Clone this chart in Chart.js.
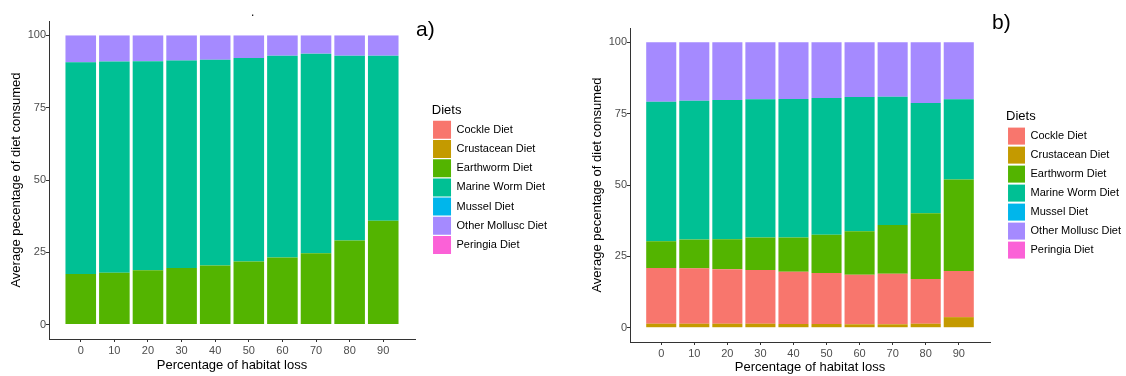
<!DOCTYPE html>
<html>
<head>
<meta charset="utf-8">
<script src="https://cdn.jsdelivr.net/npm/chart.js@4"></script>
<style>
  html, body { margin: 0; padding: 0; background: #fff; }
  body { width: 1126px; height: 376px; position: relative; overflow: hidden; font-family: "Liberation Sans", Arial, sans-serif; }
  canvas { position: absolute; top: 0; }
  .tag { position: absolute; font-size: 21px; line-height: 1; color: #000; }
</style>
</head>
<body>
<canvas id="chartA" height="376" style="left:0"></canvas>
<canvas id="chartB" height="376" style="left:581px"></canvas>
<div class="tag" style="left:416px;top:18px">a)</div>
<div class="tag" style="left:992px;top:11px">b)</div>
<div class="tag" style="left:251px;top:6px;font-size:12px">.</div>
<script>
const habitatLoss = [0, 10, 20, 30, 40, 50, 60, 70, 80, 90];
const xTicks = [0, 10, 20, 30, 40, 50, 60, 70, 80, 90];
const yTicks = [0, 25, 50, 75, 100];
const diets = ['Cockle Diet', 'Crustacean Diet', 'Earthworm Diet', 'Marine Worm Diet', 'Mussel Diet', 'Other Mollusc Diet', 'Peringia Diet'];

// panel a) - % of diet per habitat loss level
const aCockle       = [0, 0, 0, 0, 0, 0, 0, 0, 0, 0];
const aCrustacean   = [0, 0, 0, 0, 0, 0, 0, 0, 0, 0];
const aEarthworm    = [17.5, 17.9, 18.8, 19.6, 20.4, 21.8, 23.2, 24.7, 29.1, 35.9];
const aMarineWorm   = [73.2, 73.1, 72.3, 71.7, 71.2, 70.4, 69.8, 69.0, 63.9, 57.1];
const aMussel       = [0, 0, 0, 0, 0, 0, 0, 0, 0, 0];
const aOtherMollusc = [9.3, 9.0, 8.9, 8.7, 8.4, 7.8, 7.0, 6.3, 7.0, 7.0];
const aPeringia     = [0, 0, 0, 0, 0, 0, 0, 0, 0, 0];

// panel b)
const bCockle       = [19.5, 19.4, 19.1, 18.8, 18.3, 17.9, 17.4, 17.7, 15.7, 16.2];
const bCrustacean   = [1.4, 1.4, 1.4, 1.4, 1.3, 1.3, 1.2, 1.2, 1.4, 3.7];
const bEarthworm    = [9.4, 10.1, 10.5, 11.4, 12.0, 13.4, 15.2, 17.1, 23.0, 32.0];
const bMarineWorm   = [48.9, 48.6, 48.8, 48.4, 48.5, 47.9, 47.0, 44.9, 38.6, 28.1];
const bMussel       = [0, 0, 0, 0, 0, 0, 0, 0, 0, 0];
const bOtherMollusc = [20.8, 20.5, 20.2, 20.0, 19.9, 19.5, 19.2, 19.1, 21.3, 20.0];
const bPeringia     = [0, 0, 0, 0, 0, 0, 0, 0, 0, 0];

const dietColors = {
  'Cockle Diet': '#F8766D', 'Crustacean Diet': '#C49A00', 'Earthworm Diet': '#53B400',
  'Marine Worm Diet': '#00C094', 'Mussel Diet': '#00B6EB', 'Other Mollusc Diet': '#A58AFF', 'Peringia Diet': '#FB61D7'
};
// bottom -> top, as stacked in the figure
const stackOrder = ['Crustacean Diet', 'Cockle Diet', 'Earthworm Diet', 'Marine Worm Diet', 'Mussel Diet', 'Other Mollusc Diet', 'Peringia Diet'];

const FONT = '"Liberation Sans", Arial, sans-serif';
Chart.defaults.font.family = FONT;

// legend width the way Chart.js fits a vertical legend: padding + box + font/2 + text + 10
function legendWidth(box, gap) {
  const ctx = document.createElement('canvas').getContext('2d');
  ctx.font = '11px ' + FONT;
  const textW = Math.max(...diets.map(d => ctx.measureText(d).width));
  return gap + box + 5.5 + textW + 10;
}

function makePanel(canvasId, series, g) {
  const axisColor = '#333';
  const legW = legendWidth(g.box, g.gap);
  const canvas = document.getElementById(canvasId);
  canvas.width = Math.round(g.plotRight + g.gapW + legW);
  const gapW = g.gapW + (canvas.width - (g.plotRight + g.gapW + legW));
  const datasets = stackOrder.map(name => ({
    label: name,
    data: habitatLoss.map((x, i) => ({ x, y: series[name][i] })),
    backgroundColor: dietColors[name],
    borderWidth: 0,
    barPercentage: 0.91,
    categoryPercentage: 1
  }));
  new Chart(canvas, {
    type: 'bar',
    data: { datasets },
    options: {
      responsive: false, animation: false, devicePixelRatio: 1,
      layout: { padding: { top: g.top, right: 0, bottom: 0, left: 0 } },
      plugins: {
        tooltip: { enabled: false },
        legend: {
          position: 'right', align: 'start', maxWidth: legW + 20,
          title: { display: true, text: 'Diets', position: 'start', color: '#000', font: { size: 13 }, padding: { top: g.legendTop, bottom: 0 } },
          labels: {
            boxWidth: g.box, boxHeight: g.box, padding: g.gap, color: '#000', font: { size: 11 },
            sort: (a, b) => diets.indexOf(a.text) - diets.indexOf(b.text)
          }
        }
      },
      scales: {
        x: {
          type: 'linear', stacked: true, offset: false, bounds: 'data', min: -9.45, max: 99.45,
          afterBuildTicks: s => { s.ticks = xTicks.map(v => ({ value: v })); },
          afterFit: s => { s.height = g.xH; },
          grid: { display: true, drawOnChartArea: false, drawTicks: true, tickLength: 3, color: axisColor, offset: false },
          border: { display: true, color: axisColor, width: 1 },
          ticks: { color: '#4d4d4d', font: { size: 11 }, padding: 2, maxRotation: 0, autoSkip: false },
          title: { display: true, text: 'Percentage of habitat loss', color: '#000', font: { size: 13 }, padding: { top: 0, bottom: g.xTitlePad } }
        },
        y: {
          stacked: true, min: -5, max: 105, bounds: 'data',
          afterBuildTicks: s => { s.ticks = yTicks.map(v => ({ value: v })); },
          afterFit: s => { s.width = 49; },
          grid: { display: true, drawOnChartArea: false, drawTicks: true, tickLength: 3, color: axisColor },
          border: { display: true, color: axisColor, width: 1 },
          ticks: { color: '#4d4d4d', font: { size: 11 }, padding: 0 },
          title: { display: true, text: 'Average pecentage of diet consumed', color: '#000', font: { size: 13 }, padding: { top: 9, bottom: 0 } }
        },
        gap: {
          type: 'linear', position: 'right', display: true,
          grid: { display: false }, border: { display: false }, ticks: { display: false },
          afterFit: s => { s.width = gapW; }
        }
      }
    }
  });
}

makePanel('chartA', {
  'Cockle Diet': aCockle, 'Crustacean Diet': aCrustacean, 'Earthworm Diet': aEarthworm, 'Marine Worm Diet': aMarineWorm,
  'Mussel Diet': aMussel, 'Other Mollusc Diet': aOtherMollusc, 'Peringia Diet': aPeringia
}, { top: 21, plotRight: 415, gapW: 17, xH: 37, xTitlePad: 3, legendTop: 83, box: 18, gap: 1.2 });

makePanel('chartB', {
  'Cockle Diet': bCockle, 'Crustacean Diet': bCrustacean, 'Earthworm Diet': bEarthworm, 'Marine Worm Diet': bMarineWorm,
  'Mussel Diet': bMussel, 'Other Mollusc Diet': bOtherMollusc, 'Peringia Diet': bPeringia
}, { top: 28, plotRight: 990 - 581, gapW: 16.5, xH: 34, xTitlePad: 0.5, legendTop: 82, box: 17, gap: 2 });
</script>
</body>
</html>
